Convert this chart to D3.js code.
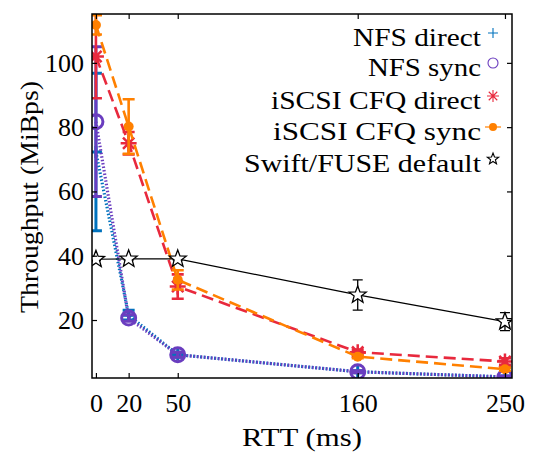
<!DOCTYPE html>
<html>
<head>
<meta charset="utf-8">
<script src="https://cdn.jsdelivr.net/npm/d3@7"></script>
<style>
  body { margin: 0; background: #fff; }
  text { font-family: "Liberation Serif", "DejaVu Serif", serif; fill: #000; }
</style>
</head>
<body>
<svg id="chart" width="534" height="456"></svg>
<script>
// data
var rtt = [0, 20, 50, 160, 250];
var xTicks = [0, 20, 50, 160, 250];
var yTicks = [20, 40, 60, 80, 100];

var nfsDirect    = [72.3, 21.5, 9.2, 3.9, 2.3];
var nfsDirectErr = [24.5, 1.5, 0.8, 0.3, 0.3];
var nfsSync      = [81.7, 20.6, 9.2, 3.9, 2.3];
var nfsSyncErr   = [23.3, 1.0, 0.8, 0.3, 0.3];
var cfqDirect    = [102, 75, 30.4, 10.0, 7.1];
var cfqDirectErr = [13, 3.5, 3.8, 0.8, 1.0];
var cfqSync      = [111.8, 80.2, 32.5, 8.6, 4.7];
var cfqSyncErr   = [3, 8.5, 3, 0.5, 0.5];
var swift        = [38.9, 39, 39, 27.8, 19.5];
var swiftErr     = [0.4, 0.4, 0.4, 4.7, 2.8];

var names = ["NFS direct", "NFS sync", "iSCSI CFQ direct", "iSCSI CFQ sync", "Swift/FUSE default"];
// widths of the legend labels as they appear in the picture
var nameWidths = [128, 113, 210, 208, 237];

var svg = d3.select("#chart"),
    margin = {top: 14, right: 22, bottom: 78, left: 92},
    width = 534,
    height = 456;

var x = d3.scaleLinear()
    .domain([-2.4, 254.3])
    .range([margin.left, width - margin.right]);

var y = d3.scaleLinear()
    .domain([1.96, 115.2])
    .range([height - margin.bottom, margin.top]);

// series styles
var series = [
  {name: names[0], vals: nfsDirect, err: nfsDirectErr, color: "#0072BD", dash: "1.5,2", lw: 3.2, marker: "plus", ew: 3},
  {name: names[1], vals: nfsSync, err: nfsSyncErr, color: "#6a3dbf", dash: "1.5,2", lw: 3.2, marker: "circle", ew: 3},
  {name: names[2], vals: cfqDirect, err: cfqDirectErr, color: "#e8293d", dash: "12,6", lw: 2.6, marker: "asterisk", ew: 2.6},
  {name: names[3], vals: cfqSync, err: cfqSyncErr, color: "#ff8000", dash: "12,6", lw: 2.6, marker: "dot", ew: 2.6},
  {name: names[4], vals: swift, err: swiftErr, color: "#000", dash: null, lw: 1.2, marker: "star", ew: 1.3}
];

svg.append("clipPath").attr("id", "clip")
  .append("rect")
  .attr("x", margin.left).attr("y", margin.top)
  .attr("width", width - margin.left - margin.right)
  .attr("height", height - margin.top - margin.bottom);

var plot = svg.append("g").attr("clip-path", "url(#clip)");

function drawMarker(g, type, cx, cy, r, color, sw) {
  if (type == "plus") {
    g.append("path").attr("d", "M" + (cx - r) + "," + cy + "H" + (cx + r) + "M" + cx + "," + (cy - r) + "V" + (cy + r))
      .attr("stroke", color).attr("stroke-width", sw).attr("fill", "none");
  } else if (type == "circle") {
    g.append("circle").attr("cx", cx).attr("cy", cy).attr("r", r)
      .attr("stroke", color).attr("stroke-width", sw).attr("fill", "none");
  } else if (type == "asterisk") {
    var d = "";
    [0, 45, 90, 135].forEach(function(a) {
      var rad = a * Math.PI / 180, dx = r * Math.cos(rad), dy = r * Math.sin(rad);
      d += "M" + (cx - dx) + "," + (cy - dy) + "L" + (cx + dx) + "," + (cy + dy);
    });
    g.append("path").attr("d", d).attr("stroke", color).attr("stroke-width", sw).attr("fill", "none");
  } else if (type == "dot") {
    g.append("circle").attr("cx", cx).attr("cy", cy).attr("r", r).attr("fill", color);
  } else if (type == "star") {
    var pts = [];
    for (var i = 0; i < 10; i++) {
      var rr = i % 2 == 0 ? r : r * 0.42;
      var ang = -Math.PI / 2 + i * Math.PI / 5;
      pts.push([cx + rr * Math.cos(ang), cy + rr * Math.sin(ang)]);
    }
    g.append("path").attr("d", "M" + pts.join("L") + "Z")
      .attr("stroke", color).attr("stroke-width", sw).attr("fill", "#fff");
  }
}

var line = d3.line()
  .x(function(d, i) { return x(rtt[i]); })
  .y(function(d) { return y(d); });

series.forEach(function(s) {
  var g = plot.append("g");
  // line
  g.append("path")
    .attr("d", line(s.vals))
    .attr("fill", "none")
    .attr("stroke", s.color)
    .attr("stroke-width", s.lw)
    .attr("stroke-dasharray", s.dash);
  // error bars
  s.vals.forEach(function(v, i) {
    var cx = x(rtt[i]), top = y(v + s.err[i]), bot = y(v - s.err[i]);
    var cap = s.marker == "star" ? 5 : 6;
    g.append("path")
      .attr("d", "M" + cx + "," + top + "V" + bot +
                 "M" + (cx - cap) + "," + top + "H" + (cx + cap) +
                 "M" + (cx - cap) + "," + bot + "H" + (cx + cap))
      .attr("stroke", s.color).attr("stroke-width", s.ew).attr("fill", "none");
  });
  // markers
  s.vals.forEach(function(v, i) {
    var cx = x(rtt[i]), cy = y(v);
    if (s.marker == "plus") drawMarker(g, "plus", cx, cy, 6, s.color, 3);
    if (s.marker == "circle") drawMarker(g, "circle", cx, cy, 7, s.color, 3);
    if (s.marker == "asterisk") drawMarker(g, "asterisk", cx, cy, 8, s.color, 2.5);
    if (s.marker == "dot") drawMarker(g, "dot", cx, cy, 5, s.color, 0);
    if (s.marker == "star") drawMarker(g, "star", cx, cy, 9, s.color, 1.3);
  });
});

// axes
var x_axis_bottom = d3.axisBottom(x).tickValues(xTicks).tickSizeInner(-5).tickSizeOuter(0).tickPadding(16);
var x_axis_top = d3.axisTop(x).tickValues(xTicks).tickSizeInner(-5).tickSizeOuter(0).tickFormat("");
var y_axis_left = d3.axisLeft(y).tickValues(yTicks).tickSizeInner(-5).tickSizeOuter(0).tickPadding(8);
var y_axis_right = d3.axisRight(y).tickValues(yTicks).tickSizeInner(-5).tickSizeOuter(0).tickFormat("");

svg.append("g").attr("transform", "translate(0," + (height - margin.bottom) + ")").call(x_axis_bottom);
svg.append("g").attr("transform", "translate(0," + margin.top + ")").call(x_axis_top);
svg.append("g").attr("transform", "translate(" + margin.left + ",0)").call(y_axis_left);
svg.append("g").attr("transform", "translate(" + (width - margin.right) + ",0)").call(y_axis_right);

svg.selectAll(".tick line").attr("stroke", "#000").attr("stroke-width", 1.2);
svg.selectAll(".domain").remove();
svg.selectAll(".tick text").style("font-family", "Liberation Serif, serif").style("font-size", "26px").attr("fill", "#000");

// frame
svg.append("rect")
  .attr("x", margin.left).attr("y", margin.top)
  .attr("width", width - margin.left - margin.right)
  .attr("height", height - margin.top - margin.bottom)
  .attr("fill", "none").attr("stroke", "#000").attr("stroke-width", 1.5);

// axis titles
svg.append("text")
  .attr("x", (margin.left + width - margin.right) / 2)
  .attr("y", 446)
  .attr("text-anchor", "middle")
  .attr("textLength", 120)
  .attr("lengthAdjust", "spacingAndGlyphs")
  .style("font-size", "26px")
  .text("RTT (ms)");

svg.append("text")
  .attr("transform", "translate(38,197) rotate(-90)")
  .attr("text-anchor", "middle")
  .attr("textLength", 232)
  .attr("lengthAdjust", "spacingAndGlyphs")
  .style("font-size", "26px")
  .text("Throughput (MiBps)");

// legend
var legendY = [33, 63, 96, 127, 159];
series.forEach(function(s, i) {
  var g = svg.append("g");
  g.append("text")
    .attr("x", 481 - nameWidths[i])
    .attr("y", legendY[i] + 13)
    .attr("textLength", nameWidths[i])
    .attr("lengthAdjust", "spacingAndGlyphs")
    .style("font-size", "26px")
    .text(s.name);
  if (s.marker == "dot") {
    g.append("path").attr("d", "M485," + legendY[i] + "H501")
      .attr("stroke", s.color).attr("stroke-width", 1.2);
  }
  var mk = {plus: 5, circle: 5, asterisk: 6, dot: 4, star: 6}[s.marker];
  drawMarker(g, s.marker, 493, legendY[i], mk, s.color, 1.1);
});
</script>
</body>
</html>
